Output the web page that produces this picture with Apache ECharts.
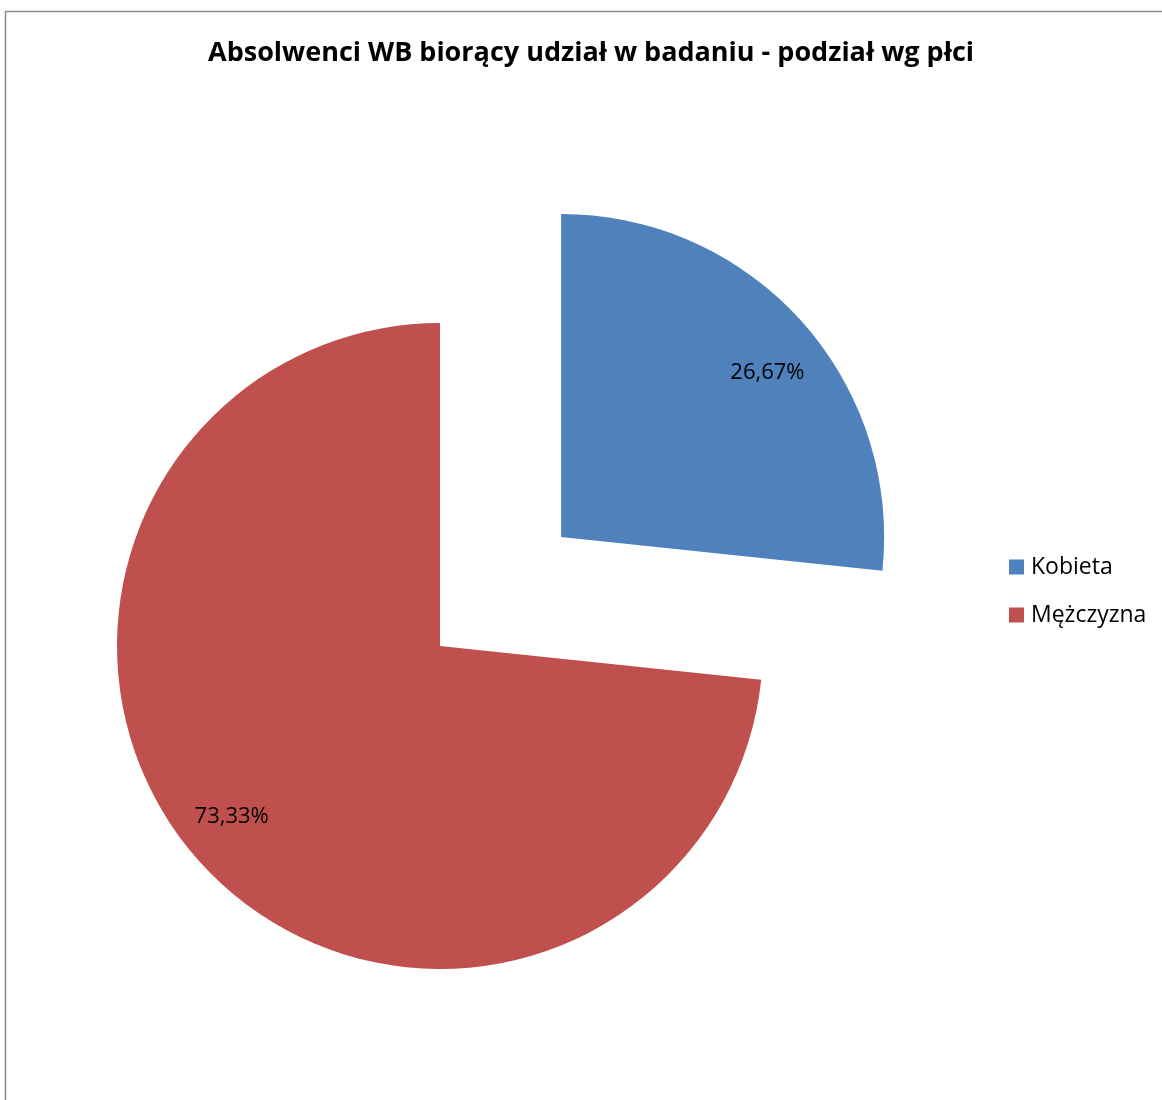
<!DOCTYPE html>
<html><head><meta charset="utf-8">
<script src="https://cdn.jsdelivr.net/npm/echarts@6/dist/echarts.min.js"></script>
<style>html,body{margin:0;padding:0;background:#fff}#c{width:1162px;height:1100px}</style>
</head><body><div id="c"></div>
<script>
const titleText = 'Absolwenci WB biorący udział w badaniu - podział wg płci';
const categories = ['Kobieta', 'Mężczyzna'];
const values = [26.67, 73.33];
const labels = ['26,67%', '73,33%'];
const colors = ['#4F81BD', '#C0504D'];
const labelOffsets = [[6, 16], [-8, -10]];

const chart = echarts.init(document.getElementById('c'));
const FONT = '"Open Sans", "DejaVu Sans", sans-serif';
const dataMain = categories.map((n, i) => ({ name: n, value: values[i], selected: i === 0, itemStyle: { color: colors[i] } }));
const dataLbl = categories.map((n, i) => ({
  name: n, value: values[i], selected: i === 0,
  label: { formatter: labels[i], offset: labelOffsets[i] },
  select: { label: { show: true, formatter: labels[i], offset: labelOffsets[i] } }
}));
chart.setOption({
  animation: false,
  graphic: [{ type: 'rect', shape: { x: 5.5, y: 11.5, width: 1300, height: 1200 }, style: { fill: 'none', stroke: '#8a8a8a', lineWidth: 1.5 }, silent: true }],
  title: { text: titleText, left: 586, top: 35, textAlign: 'center', textStyle: { fontFamily: FONT, fontSize: 27, fontWeight: 'bold', color: '#000' } },
  legend: {
    orient: 'vertical', left: 1009, top: 555, padding: 0, itemWidth: 15, itemHeight: 15, itemGap: 24,
    icon: 'rect', data: categories,
    textStyle: { fontFamily: FONT, fontSize: 23, color: '#000', lineHeight: 24, padding: [0, 0, 0, 2] },
    selectedMode: false
  },
  series: [
    { type: 'pie', center: [440, 646], radius: 323, startAngle: 90, clockwise: true,
      selectedMode: 'multiple', selectedOffset: 163, silent: true, label: { show: false }, labelLine: { show: false },
      data: dataMain },
    { type: 'pie', center: [440, 646], radius: [210, 323], startAngle: 90, clockwise: true,
      selectedMode: 'multiple', selectedOffset: 163, silent: true, legendHoverLink: false,
      itemStyle: { color: 'rgba(0,0,0,0)' },
      label: { show: true, position: 'inside', fontFamily: FONT, fontSize: 22, color: '#000' },
      labelLine: { show: false }, data: dataLbl }
  ]
});
</script></body></html>
